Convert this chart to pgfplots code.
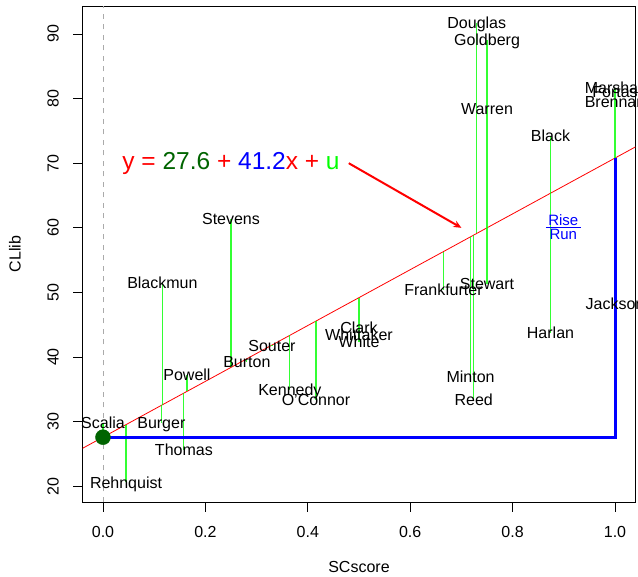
\documentclass[border=0pt]{standalone}
\usepackage{pgfplots}
\pgfplotsset{compat=1.18}
\usepackage{fontspec}
\usepackage{amsmath}
\setmainfont{Liberation Sans}
\usetikzlibrary{arrows.meta}
\definecolor{rgreen}{RGB}{0,255,0}
\definecolor{dgreen}{RGB}{0,100,0}
\definecolor{rred}{RGB}{255,0,0}
\definecolor{rblue}{RGB}{0,0,255}
\definecolor{rgray}{RGB}{170,170,170}
\begin{document}
\fontsize{16bp}{19bp}\selectfont
\begin{tikzpicture}[font=\fontsize{16bp}{19bp}\selectfont]
\begin{axis}[
  at={(82.5bp,75bp)}, anchor=south west,
  scale only axis, width=553bp, height=496bp,
  xmin=-0.04, xmax=1.04, ymin=17.57, ymax=94.33,
  xtick={0,0.2,0.4,0.6,0.8,1.0},
  ytick={20,30,40,50,60,70,80,90},
  tick pos=left, tick align=outside,
  major tick length=9.5bp,
  every tick/.style={black, line width=0.8bp},
  axis line style={line width=0.8bp},
  /pgf/number format/assume math mode=true,
  xticklabel={\pgfmathprintnumber[fixed,fixed zerofill,precision=1]{\tick}},
  yticklabel={\pgfmathprintnumber[fixed,precision=0]{\tick}},
  xticklabel style={anchor=base, inner sep=0pt},
  yticklabel style={rotate=90, anchor=base, inner sep=0pt},
  xticklabel shift=25.7bp, yticklabel shift=14.3bp,
  xlabel={SCscore}, ylabel={CLlib},
  every axis x label/.style={at={(axis description cs:0.5,0)}, anchor=base, yshift=-70.7bp, inner sep=0pt},
  every axis y label/.style={at={(axis description cs:0,0.5)}, xshift=-61.8bp, rotate=90, anchor=base, inner sep=0pt},
  clip=true,
]
% dashed vertical at x=0
\addplot[rgray, line width=0.9bp, dash pattern=on 5bp off 5.5bp] coordinates {(0,17.57) (0,94.33)};
% regression line
\addplot[rred, line width=0.8bp] coordinates {(-0.04,25.872) (1.04,72.528)};
% residual segments
\addplot[rgreen, opacity=0.8, line width=1.2bp, unbounded coords=jump] coordinates {
(0,29.8) (0,27.6) (0,nan)
(0.045,20.6) (0.045,29.54) (0,nan)
(0.114,29.8) (0.114,32.52) (0,nan)
(0.116,51.45) (0.116,32.61) (0,nan)
(0.164,37.2) (0.164,34.68) (0,nan)
(0.158,25.6) (0.158,34.43) (0,nan)
(0.25,61.4) (0.25,38.4) (0,nan)
(0.281,39.25) (0.281,39.74) (0,nan)
(0.33,41.7) (0.33,41.86) (0,nan)
(0.365,34.9) (0.365,43.37) (0,nan)
(0.416,33.4) (0.416,45.57) (0,nan)
(0.5,44.5) (0.5,49.2) (0,nan)
(0.5,43.4) (0.5,49.2) (0,nan)
(0.5,42.3) (0.5,49.2) (0,nan)
(0.665,50.4) (0.665,56.33) (0,nan)
(0.73,91.7) (0.73,59.14) (0,nan)
(0.75,89.05) (0.75,60.0) (0,nan)
(0.75,78.4) (0.75,60.0) (0,nan)
(0.75,51.3) (0.75,60.0) (0,nan)
(0.718,36.9) (0.718,58.62) (0,nan)
(0.724,33.4) (0.724,58.88) (0,nan)
(0.874,74.2) (0.874,65.36) (0,nan)
(0.874,43.7) (0.874,65.36) (0,nan)
(1,81.6) (1,70.8) (0,nan)
(1,81.0) (1,70.8) (0,nan)
(1,79.5) (1,70.8) (0,nan)
(1,48.2) (1,70.8)
};
% rise and run
\addplot[rblue, line width=3bp] coordinates {(0,27.6) (1,27.6) (1,70.8)};
% justice labels
\addplot[draw=none, mark=none, nodes near coords, point meta=explicit symbolic,
  every node near coord/.append style={anchor=base, yshift=-5.7bp, inner sep=0pt, black}]
  table[meta=name] {
x y name
0 29.8 Scalia
0.045 20.6 Rehnquist
0.114 29.8 Burger
0.116 51.45 Blackmun
0.164 37.2 Powell
0.158 25.6 Thomas
0.25 61.4 Stevens
0.281 39.25 Burton
0.33 41.7 Souter
0.365 34.9 Kennedy
0.416 33.4 O'Connor
0.5 44.5 Clark
0.5 43.4 Whittaker
0.5 42.3 White
0.665 50.4 Frankfurter
0.73 91.7 Douglas
0.75 89.05 Goldberg
0.75 78.4 Warren
0.75 51.3 Stewart
0.718 36.9 Minton
0.724 33.4 Reed
0.874 74.2 Black
0.874 43.7 Harlan
1 81.6 Marshall
1 81.0 Fortas
1 79.5 Brennan
1 48.2 Jackson
};
% intercept point
\addplot[only marks, mark=*, mark size=7.5bp, dgreen] coordinates {(0,27.6)};
% arrow
\addplot[rred, line width=2bp, -{Stealth[length=8bp,width=7bp]}] coordinates {(0.48,70) (0.70,60)};
% equation
\node[anchor=base, inner sep=0pt, yshift=-8.8bp, font=\fontsize{24.5bp}{29bp}\selectfont] at (axis cs:0.25,70.4)
  {\textcolor{rred}{y\ =\ }\textcolor{dgreen}{27.6}\textcolor{rred}{\ +\ }\textcolor{rblue}{41.2}\textcolor{rred}{x\ +\ }\textcolor{rgreen}{u}};
% rise over run
\node[rblue, inner sep=0pt, font=\fontsize{15bp}{18bp}\selectfont] at (axis cs:0.899,60.1)
  {$\genfrac{}{}{0.8pt}{}{\text{\fontsize{15bp}{18bp}\selectfont\,Rise\,}}{\text{\fontsize{15bp}{18bp}\selectfont Run}}$};
\end{axis}
\pgfresetboundingbox
\path[use as bounding box] (0,0) rectangle (638bp,577bp);
\end{tikzpicture}
\end{document}
